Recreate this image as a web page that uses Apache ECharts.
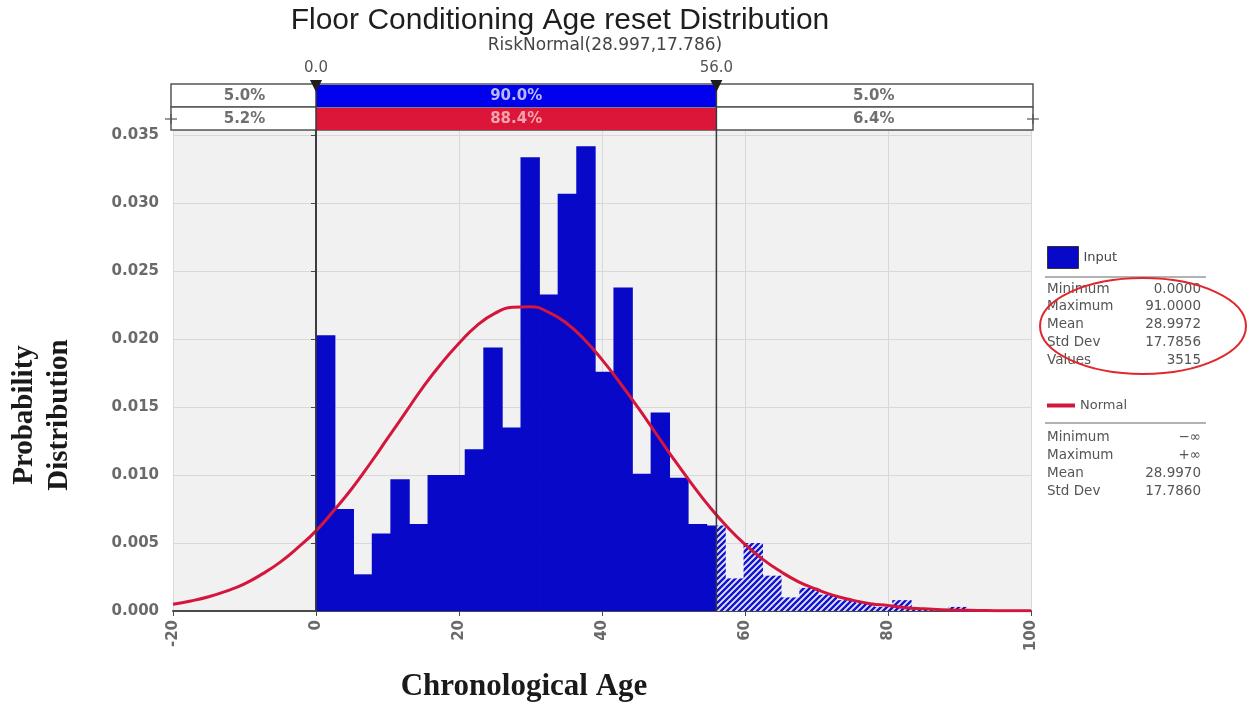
<!DOCTYPE html>
<html>
<head>
<meta charset="utf-8">
<script src="https://cdn.jsdelivr.net/npm/echarts@6/dist/echarts.min.js"></script>
<style>
html,body{margin:0;padding:0;background:#fff;}
#c{width:1249px;height:704px;}
</style>
</head>
<body>
<div id="c"></div>
<script>
// ---------- DATA ----------
const titleText = 'Floor Conditioning Age reset Distribution';
const subtitleText = 'RiskNormal(28.997,17.786)';
const xAxisName = 'Chronological Age';
const yAxisNameLines = ['Probability', 'Distribution'];

// histogram bin edges (36 edges -> 35 bins)
const binEdges = [0, 2.6, 5.2, 7.8, 10.4, 13, 15.6, 18.2, 20.8, 23.4, 26, 28.6, 31.2, 33.8, 36.4, 39,
  41.6, 44.2, 46.8, 49.4, 52, 54.6, 57.2, 59.8, 62.4, 65, 67.6, 70.2, 72.8, 75.4, 78, 80.6, 83.2, 85.8, 88.4, 91];
// probability density per bin
const inputDensity = [0.0203, 0.0075, 0.0027, 0.0057, 0.0097, 0.0064, 0.0100, 0.0100, 0.0119, 0.0194,
  0.0135, 0.0334, 0.0233, 0.0307, 0.0342, 0.0176, 0.0238, 0.0101, 0.0146, 0.0098,
  0.0064, 0.0063, 0.0024, 0.0050, 0.0026, 0.0010, 0.0017, 0.0012, 0.0008, 0.0006,
  0.0003, 0.0008, 0.0002, 0.0001, 0.0003];

// fitted Normal curve
const normalX = [-20, -17.5, -15, -12.5, -10, -7.5, -5, -2.5, 0, 2.5, 5, 7.5, 10, 12.5, 15, 17.5, 20, 22.5,
  25, 27.5, 30, 32.5, 35, 37.5, 40, 42.5, 45, 47.5, 50, 52.5, 55, 57.5, 60, 62.5, 65, 67.5, 70, 72.5,
  75, 77.5, 80, 82.5, 85, 87.5, 90, 92.5, 95, 97.5, 100];
const normalY = [0.0005, 0.00074, 0.00105, 0.00147, 0.0020, 0.00273, 0.0036, 0.00468, 0.0059, 0.0074,
  0.0090, 0.0108, 0.0127, 0.0146, 0.0165, 0.0182, 0.0197, 0.0210,
  0.0219, 0.02235, 0.0224, 0.0220, 0.0212, 0.0200, 0.0185, 0.0168, 0.0150, 0.0131, 0.0112, 0.0094,
  0.0077, 0.0062, 0.0049, 0.0038, 0.0029, 0.00215, 0.0016, 0.00113,
  0.0008, 0.00054, 0.0004, 0.00024, 0.00016, 0.0001, 0.00006, 0.00004, 0.00002, 0.00001, 0.00001];

const xMin = -20, xMax = 100, xInterval = 20;
const yMin = 0, yMax = 0.0354, yInterval = 0.005;

const delimiters = [0, 56];
const delimiterLabels = ['0.0', '56.0'];
const inputPct = ['5.0%', '90.0%', '5.0%'];
const normalPct = ['5.2%', '88.4%', '6.4%'];

const inputStatLabels = ['Minimum', 'Maximum', 'Mean', 'Std Dev', 'Values'];
const inputStatValues = ['0.0000', '91.0000', '28.9972', '17.7856', '3515'];
const normalStatLabels = ['Minimum', 'Maximum', 'Mean', 'Std Dev'];
const normalStatValues = ['\u2212\u221E', '+\u221E', '28.9970', '17.7860'];

// ---------- STYLE ----------
const BLUE = '#0808c8';
const RED = '#d4153c';
const GRAY_TXT = '#6a6a6a';

function makeHatch() {
  const c = document.createElement('canvas');
  c.width = 6; c.height = 6;
  const g = c.getContext('2d');
  g.fillStyle = '#e4e6ff';
  g.fillRect(0, 0, 6, 6);
  g.strokeStyle = '#1414cc';
  g.lineWidth = 2.4;
  g.beginPath();
  g.moveTo(-1, 7); g.lineTo(7, -1);
  g.moveTo(-1, 1); g.lineTo(1, -1);
  g.moveTo(5, 7); g.lineTo(7, 5);
  g.stroke();
  return c;
}
const hatchPattern = { image: makeHatch(), repeat: 'repeat' };

const histData = inputDensity.map((v, i) => [binEdges[i], binEdges[i + 1], v]);
const normalData = normalX.map((x, i) => [x, normalY[i]]);

const chart = echarts.init(document.getElementById('c'), null, { renderer: 'canvas' });

const option = {
  animation: false,
  backgroundColor: '#ffffff',
  title: [
    { text: titleText, left: 560, top: 6, textAlign: 'center', padding: 0,
      textStyle: { fontFamily: 'Liberation Sans', fontSize: 30, fontWeight: 'normal', color: '#1e1e1e' } },
    { text: subtitleText, left: 605, top: 37, textAlign: 'center', padding: 0,
      textStyle: { fontFamily: 'DejaVu Sans', fontSize: 17, fontWeight: 'normal', color: '#444' } }
  ],
  legend: [
    { data: [{ name: 'Input', icon: 'rect' }], left: 1042, top: 241, orient: 'vertical',
      itemWidth: 31, itemHeight: 22, itemGap: 6, selectedMode: false,
      itemStyle: { borderColor: '#333', borderWidth: 1 },
      textStyle: { fontFamily: 'DejaVu Sans', fontSize: 13, color: '#444' } },
    { data: [{ name: 'Normal', icon: 'rect' }], left: 1042, top: 394, orient: 'vertical',
      itemWidth: 28, itemHeight: 4, selectedMode: false,
      textStyle: { fontFamily: 'DejaVu Sans', fontSize: 13, color: '#555' } }
  ],
  grid: { left: 173, right: 218, top: 130, bottom: 93, show: true, backgroundColor: '#f1f1f1', borderWidth: 0 },
  xAxis: {
    type: 'value', min: xMin, max: xMax, interval: xInterval,
    axisLine: { show: true, onZero: false, lineStyle: { color: '#4a4a4a', width: 2 } },
    axisTick: { show: true, length: 5, lineStyle: { color: '#4a4a4a' } },
    axisLabel: { rotate: 90, margin: 9, color: GRAY_TXT, fontFamily: 'DejaVu Sans', fontWeight: 'bold', fontSize: 15 },
    splitLine: { show: true, lineStyle: { color: '#d8d8d8', width: 1 } }
  },
  yAxis: {
    type: 'value', min: yMin, max: yMax, interval: yInterval,
    axisLine: { show: true, lineStyle: { color: '#4a4a4a', width: 2 } },
    axisTick: { show: true, length: 5, lineStyle: { color: '#4a4a4a' } },
    axisLabel: { margin: 14, color: GRAY_TXT, fontFamily: 'DejaVu Sans', fontWeight: 'bold', fontSize: 15,
      showMaxLabel: false, formatter: v => v.toFixed(3) },
    splitLine: { show: true, lineStyle: { color: '#d8d8d8', width: 1 } }
  },
  series: [
    {
      name: 'Input', type: 'custom', data: histData, z: 2,
      itemStyle: { color: BLUE },
      encode: { x: [0, 1], y: 2 },
      renderItem: function (params, api) {
        const a = api.value(0), b = api.value(1), v = api.value(2);
        const lo = delimiters[0], hi = delimiters[1];
        const yTop = api.coord([a, v])[1];
        const yBot = api.coord([a, 0])[1];
        const segs = [];
        if (a < lo) segs.push([a, Math.min(b, lo), true]);
        if (b > lo && a < hi) segs.push([Math.max(a, lo), Math.min(b, hi), false]);
        if (b > hi) segs.push([Math.max(a, hi), b, true]);
        const children = segs.map(s => {
          const p0 = api.coord([s[0], 0])[0];
          const p1 = api.coord([s[1], 0])[0];
          return {
            type: 'rect',
            shape: { x: p0, y: yTop, width: p1 - p0 + 0.8, height: yBot - yTop },
            style: { fill: s[2] ? hatchPattern : BLUE, stroke: null }
          };
        });
        return { type: 'group', children: children };
      }
    },
    {
      name: 'Normal', type: 'line', data: normalData, smooth: true, showSymbol: false, z: 5,
      itemStyle: { color: RED },
      lineStyle: { color: RED, width: 3 }
    }
  ]
};

chart.setOption(option);

// ---------- overlay annotations positioned via the chart's scales ----------
const px = x => chart.convertToPixel({ xAxisIndex: 0 }, x);
const py = y => chart.convertToPixel({ yAxisIndex: 0 }, y);
const xL = px(xMin), xR = px(xMax);
const yB = py(0);
const d0 = px(delimiters[0]), d1 = px(delimiters[1]);
const r1Top = 84, r1Bot = 107, r2Bot = 130;

const g = [];
g.push({ type: 'rect', shape: { x: xL - 2, y: r1Top, width: xR - xL + 4, height: r1Bot - r1Top }, style: { fill: '#fff', stroke: '#555', lineWidth: 1.5 }, z: 10 });
g.push({ type: 'rect', shape: { x: xL - 2, y: r1Bot, width: xR - xL + 4, height: r2Bot - r1Bot }, style: { fill: '#fff', stroke: '#555', lineWidth: 1.5 }, z: 10 });
g.push({ type: 'rect', shape: { x: d0, y: r1Top + 1, width: d1 - d0, height: r1Bot - r1Top - 1 }, style: { fill: '#0000ee' }, z: 11 });
g.push({ type: 'rect', shape: { x: d0, y: r1Bot + 1, width: d1 - d0, height: r2Bot - r1Bot - 1 }, style: { fill: '#dc1638' }, z: 11 });
const segCenters = [(xL + d0) / 2, (d0 + d1) / 2, (d1 + xR) / 2];
const pctFont = 'bold 15px "DejaVu Sans"';
segCenters.forEach((cx, i) => {
  g.push({ type: 'text', x: cx, y: (r1Top + r1Bot) / 2 + 1, z: 12,
    style: { text: inputPct[i], font: pctFont, fill: i === 1 ? '#b9b9ff' : '#6f6f6f', textAlign: 'center', textVerticalAlign: 'middle' } });
  g.push({ type: 'text', x: cx, y: (r1Bot + r2Bot) / 2 + 1, z: 12,
    style: { text: normalPct[i], font: pctFont, fill: i === 1 ? '#f3a3ae' : '#6f6f6f', textAlign: 'center', textVerticalAlign: 'middle' } });
});
[xL - 2, xR + 2].forEach(x => {
  g.push({ type: 'line', shape: { x1: x - 6, y1: 119, x2: x + 6, y2: 119 }, style: { stroke: '#555', lineWidth: 1.2 }, z: 12 });
  g.push({ type: 'line', shape: { x1: x, y1: 114, x2: x, y2: 124 }, style: { stroke: '#555', lineWidth: 1.2 }, z: 12 });
});
[d0, d1].forEach((x, i) => {
  g.push({ type: 'line', shape: { x1: x, y1: r1Top, x2: x, y2: yB }, style: { stroke: '#3a3a3a', lineWidth: 1.5 }, z: 13 });
  g.push({ type: 'polygon', shape: { points: [[x - 6, r1Top - 4], [x + 6, r1Top - 4], [x, r1Top + 8]] }, style: { fill: '#1e1e1e' }, z: 14 });
  g.push({ type: 'text', x: x, y: 68, z: 14,
    style: { text: delimiterLabels[i], font: '15px "DejaVu Sans"', fill: '#555', textAlign: 'center', textVerticalAlign: 'middle' } });
});
g.push({ type: 'text', x: 524, y: 687, z: 14,
  style: { text: xAxisName, font: 'bold 31px "Liberation Serif"', fill: '#1a1a1a', textAlign: 'center', textVerticalAlign: 'middle' } });
yAxisNameLines.forEach((t, i) => {
  g.push({ type: 'text', x: 25 + i * 35, y: 415, rotation: Math.PI / 2, z: 14,
    style: { text: t, font: 'bold 29px "Liberation Serif"', fill: '#1a1a1a', textAlign: 'center', textVerticalAlign: 'middle' } });
});
const statFont = '13.5px "DejaVu Sans"';
const panelL = 1047, panelR = 1201;
g.push({ type: 'line', shape: { x1: 1045, y1: 277, x2: 1206, y2: 277 }, style: { stroke: '#999', lineWidth: 1.5 } });
inputStatLabels.forEach((t, i) => {
  const y = 289 + i * 17.8;
  g.push({ type: 'text', x: panelL, y: y, style: { text: t, font: statFont, fill: '#555', textAlign: 'left', textVerticalAlign: 'middle' } });
  g.push({ type: 'text', x: panelR, y: y, style: { text: inputStatValues[i], font: statFont, fill: '#555', textAlign: 'right', textVerticalAlign: 'middle' } });
});
g.push({ type: 'line', shape: { x1: 1045, y1: 423, x2: 1206, y2: 423 }, style: { stroke: '#999', lineWidth: 1.5 } });
normalStatLabels.forEach((t, i) => {
  const y = 437 + i * 18;
  g.push({ type: 'text', x: panelL, y: y, style: { text: t, font: statFont, fill: '#555', textAlign: 'left', textVerticalAlign: 'middle' } });
  g.push({ type: 'text', x: panelR, y: y, style: { text: normalStatValues[i], font: statFont, fill: '#555', textAlign: 'right', textVerticalAlign: 'middle' } });
});
g.push({ type: 'ellipse', shape: { cx: 1143, cy: 326, rx: 103, ry: 48 }, style: { fill: null, stroke: '#e0282c', lineWidth: 2 }, z: 15 });

chart.setOption({ graphic: { elements: g } });
</script>
</body>
</html>
